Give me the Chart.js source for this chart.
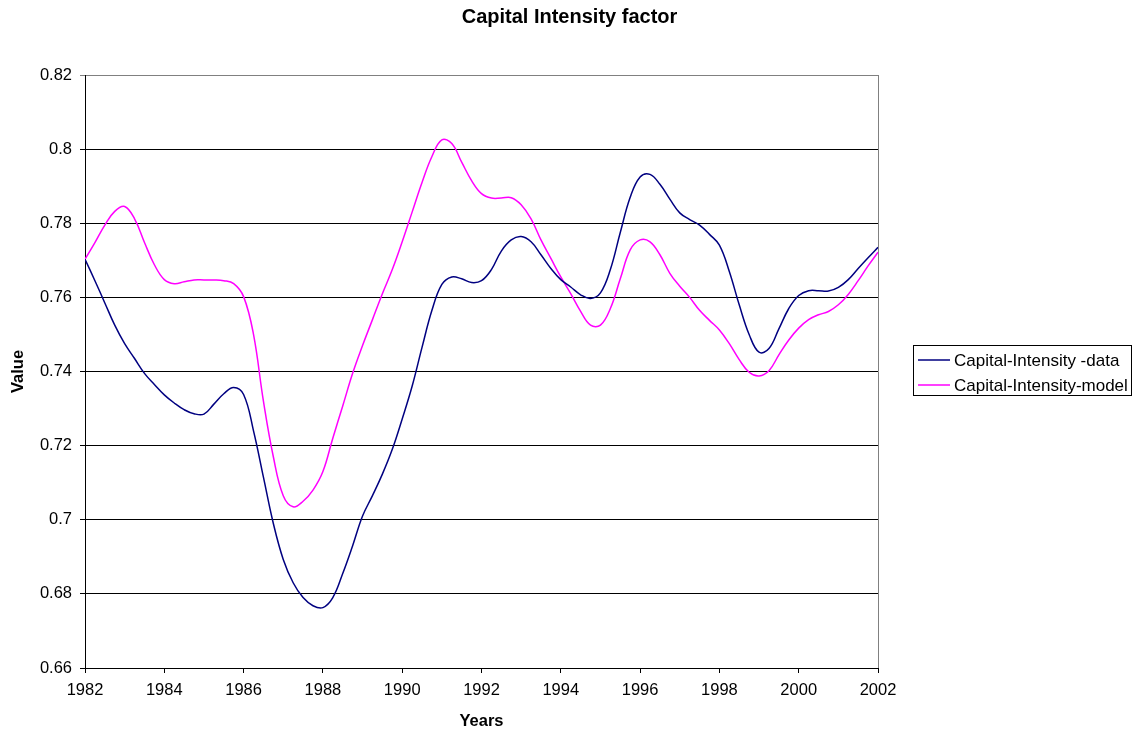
<!DOCTYPE html>
<html>
<head>
<meta charset="utf-8">
<title>Capital Intensity factor</title>
<script src="https://cdn.jsdelivr.net/npm/chart.js@4/dist/chart.umd.min.js"></script>
<style>
    html, body { margin: 0; padding: 0; background: #fff; }
</style>
</head>
<body>
<canvas id="myChart" width="1139" height="736"></canvas>
<script>
//years, one point every quarter
var years = [
    1982, 1982.25, 1982.5, 1982.75, 1983, 1983.25, 1983.5, 1983.75,
    1984, 1984.25, 1984.5, 1984.75, 1985, 1985.25, 1985.5, 1985.75,
    1986, 1986.25, 1986.5, 1986.75, 1987, 1987.25, 1987.5, 1987.75,
    1988, 1988.25, 1988.5, 1988.75, 1989, 1989.25, 1989.5, 1989.75,
    1990, 1990.25, 1990.5, 1990.75, 1991, 1991.25, 1991.5, 1991.75,
    1992, 1992.25, 1992.5, 1992.75, 1993, 1993.25, 1993.5, 1993.75,
    1994, 1994.25, 1994.5, 1994.75, 1995, 1995.25, 1995.5, 1995.75,
    1996, 1996.25, 1996.5, 1996.75, 1997, 1997.25, 1997.5, 1997.75,
    1998, 1998.25, 1998.5, 1998.75, 1999, 1999.25, 1999.5, 1999.75,
    2000, 2000.25, 2000.5, 2000.75, 2001, 2001.25, 2001.5, 2001.75,
    2002
];

var dataValues = [
    0.7703, 0.7645, 0.7585, 0.7525, 0.7475, 0.7435, 0.7395, 0.7365,
    0.7337, 0.7315, 0.7297, 0.7286, 0.7285, 0.7312, 0.7340, 0.7357,
    0.7338, 0.7240, 0.7115, 0.6990, 0.6893, 0.6830, 0.6790, 0.6768,
    0.6763, 0.6790, 0.6855, 0.6930, 0.7010, 0.7065, 0.7123, 0.7190,
    0.7272, 0.7360, 0.7465, 0.7565, 0.7635, 0.7655, 0.7650, 0.7640,
    0.7645, 0.7675, 0.7725, 0.7755, 0.7764, 0.7750, 0.7715, 0.7678,
    0.7648, 0.7628, 0.7607, 0.7597, 0.7612, 0.7675, 0.7775, 0.7870,
    0.7925, 0.7932, 0.7905, 0.7865, 0.7828, 0.7810, 0.7795, 0.7770,
    0.7741, 0.7670, 0.7580, 0.7500, 0.7452, 0.7462, 0.7515, 0.7570,
    0.7605, 0.7618, 0.7618, 0.7617, 0.7627, 0.7648, 0.7678, 0.7707,
    0.7735
];

var modelValues = [
    0.7703, 0.7748, 0.7795, 0.7832, 0.7845, 0.7812, 0.7748, 0.7688,
    0.7648, 0.7637, 0.7642, 0.7647, 0.7647, 0.7647, 0.7645, 0.7637,
    0.7602, 0.7500, 0.7320, 0.7170, 0.7065, 0.7035, 0.7050, 0.7080,
    0.7130, 0.7220, 0.7307, 0.7395, 0.7470, 0.7540, 0.7610, 0.7675,
    0.7750, 0.7830, 0.7910, 0.7980, 0.8025, 0.8015, 0.7965, 0.7915,
    0.7880, 0.7868, 0.7868, 0.7869, 0.7850, 0.7812, 0.7755, 0.7705,
    0.7655, 0.7610, 0.7562, 0.7525, 0.7525, 0.7570, 0.7650, 0.7728,
    0.7755, 0.7750, 0.7715, 0.7665, 0.7630, 0.7600, 0.7565, 0.7538,
    0.7512, 0.7475, 0.7432, 0.7398, 0.7388, 0.7402, 0.7445, 0.7485,
    0.7517, 0.7540, 0.7553, 0.7562, 0.7580, 0.7608, 0.7645, 0.7685,
    0.7722
];

var seriesNames = ["Capital-Intensity -data", "Capital-Intensity-model"];
var lineColors = ["#000080", "#ff00ff"];

// tick labels
var xTicks = [1982, 1984, 1986, 1988, 1990, 1992, 1994, 1996, 1998, 2000, 2002];
var yTicks = [0.66, 0.68, 0.7, 0.72, 0.74, 0.76, 0.78, 0.8, 0.82];

const toPoints = vals => vals.map((v, i) => ({ x: years[i], y: v }));

// grey frame on the right of the plot area, like excel
const plotFrame = {
    id: 'plotFrame',
    beforeDatasetsDraw(chart) {
        const { ctx, chartArea: a } = chart;
        ctx.save();
        ctx.strokeStyle = '#808080';
        ctx.lineWidth = 1;
        ctx.beginPath();
        ctx.moveTo(Math.round(a.right) + 0.5, a.top);
        ctx.lineTo(Math.round(a.right) + 0.5, a.bottom);
        ctx.stroke();
        ctx.restore();
    }
};

// boxed legend to the right
const boxLegend = {
    id: 'boxLegend',
    afterDraw(chart) {
        const ctx = chart.ctx;
        ctx.save();
        ctx.strokeStyle = '#000';
        ctx.lineWidth = 1;
        ctx.strokeRect(913.5, 345.5, 218, 50);
        ctx.font = '17px "Liberation Sans", Arial, sans-serif';
        ctx.textBaseline = 'middle';
        ctx.fillStyle = '#000';
        chart.data.datasets.forEach((ds, i) => {
            const y = 360 + i * 25;
            ctx.strokeStyle = ds.borderColor;
            ctx.lineWidth = 1.5;
            ctx.beginPath();
            ctx.moveTo(918, y);
            ctx.lineTo(950, y);
            ctx.stroke();
            ctx.fillText(ds.label, 954, y + 1);
        });
        ctx.restore();
    }
};

let mychart = new Chart("myChart", {
    type: "line",
    data: {
        datasets: [{
            label: seriesNames[0],
            data: toPoints(dataValues),
            borderColor: lineColors[0],
            backgroundColor: lineColors[0],
            borderWidth: 1.5,
            pointRadius: 0,
            tension: 0.4,
            fill: false
        }, {
            label: seriesNames[1],
            data: toPoints(modelValues),
            borderColor: lineColors[1],
            backgroundColor: lineColors[1],
            borderWidth: 1.5,
            pointRadius: 0,
            tension: 0.4,
            fill: false
        }]
    },
    options: {
        responsive: false,
        animation: false,
        devicePixelRatio: 1,
        layout: { padding: 0 },
        plugins: {
            legend: { display: false },
            tooltip: { enabled: false },
            title: {
                display: true,
                text: "Capital Intensity factor",
                color: '#000',
                font: { family: '"Liberation Sans", Arial, sans-serif', size: 20, weight: 'bold' },
                padding: { top: 5, bottom: 46 }
            }
        },
        scales: {
            x: {
                type: 'linear',
                min: xTicks[0],
                max: xTicks[xTicks.length - 1],
                afterBuildTicks: s => { s.ticks = xTicks.map(v => ({ value: v })); },
                afterFit: s => { s.height = 68; },
                ticks: {
                    color: '#000',
                    font: { family: '"Liberation Sans", Arial, sans-serif', size: 16.5 },
                    padding: 8,
                    maxRotation: 0,
                    autoSkip: false,
                    callback: v => String(v)
                },
                grid: { drawOnChartArea: false, drawTicks: true, tickLength: 5, color: '#000' },
                border: { color: '#000', width: 1 },
                title: {
                    display: true,
                    text: "Years",
                    color: '#000',
                    font: { family: '"Liberation Sans", Arial, sans-serif', size: 16.5, weight: 'bold' },
                    padding: { top: 0, bottom: 5 }
                }
            },
            y: {
                min: yTicks[0],
                max: yTicks[yTicks.length - 1],
                afterBuildTicks: s => { s.ticks = yTicks.map(v => ({ value: v })); },
                afterFit: s => { s.width = 85; },
                ticks: {
                    color: '#000',
                    font: { family: '"Liberation Sans", Arial, sans-serif', size: 16.5 },
                    padding: 8,
                    callback: v => String(Number(v.toFixed(2)))
                },
                // top line is the grey plot frame, the rest black gridlines
                grid: {
                    color: c => (c.tick && c.tick.value === yTicks[yTicks.length - 1]) ? '#808080' : '#000',
                    lineWidth: 1,
                    tickLength: 5
                },
                border: { color: '#000', width: 1 },
                title: {
                    display: true,
                    text: "Value",
                    color: '#000',
                    font: { family: '"Liberation Sans", Arial, sans-serif', size: 16.5, weight: 'bold' },
                    padding: { top: 9, bottom: 0 }
                }
            },
            // empty axis on the right, only keeps room for the legend
            pad: {
                type: 'linear',
                position: 'right',
                display: true,
                grid: { display: false },
                border: { display: false },
                ticks: { display: false },
                afterFit: s => { s.width = 261; }
            }
        }
    },
    plugins: [plotFrame, boxLegend]
});
</script>
</body>
</html>
